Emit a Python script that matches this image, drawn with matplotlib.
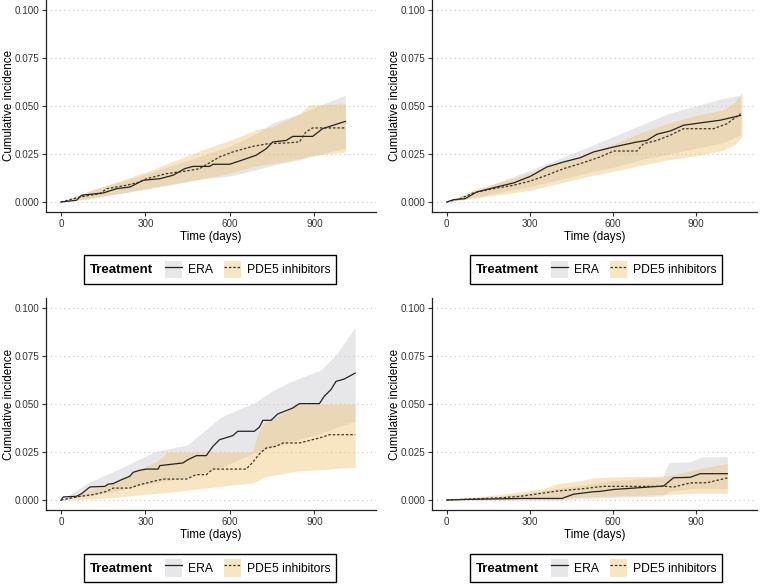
import matplotlib
matplotlib.use("Agg")
import matplotlib.pyplot as plt
from matplotlib.patches import Patch
from matplotlib.lines import Line2D
from matplotlib.offsetbox import HPacker

plt.rcParams['font.family'] = ['Liberation Sans', 'DejaVu Sans']

# ---- panel A (top left) ----
a_era_t = [0, 55, 73, 150, 197, 245, 292, 351, 398, 439, 469, 528, 540, 599, 634, 693, 729, 752, 800, 823, 894, 929, 1010]
a_era_v = [0, 0.0009, 0.0035, 0.0047, 0.0069, 0.0078, 0.0113, 0.0121, 0.0139, 0.0173, 0.0185, 0.0185, 0.0196, 0.0196,
           0.0213, 0.0243, 0.0277, 0.0312, 0.032, 0.0341, 0.0341, 0.0381, 0.0419]
a_pde_t = [0, 67, 138, 162, 233, 280, 304, 374, 445, 492, 522, 563, 610, 681, 735, 800, 847, 870, 894, 1010]
a_pde_v = [0, 0.0026, 0.0043, 0.0069, 0.0087, 0.0104, 0.0121, 0.0147, 0.0161, 0.0173, 0.0199, 0.0234, 0.026, 0.0289,
           0.0303, 0.0307, 0.0312, 0.0364, 0.0385, 0.0385]
a_era_bt = [0, 100, 300, 500, 600, 700, 750, 850, 950, 1010]
a_era_lo = [0, 0.002, 0.0065, 0.012, 0.0135, 0.017, 0.019, 0.022, 0.026, 0.028]
a_era_hi = [0, 0.0055, 0.0145, 0.024, 0.029, 0.036, 0.041, 0.046, 0.052, 0.0555]
a_pde_bt = [0, 100, 300, 500, 600, 700, 750, 850, 880, 1010]
a_pde_lo = [0, 0.0015, 0.007, 0.012, 0.015, 0.019, 0.020, 0.0225, 0.024, 0.026]
a_pde_hi = [0, 0.0058, 0.0155, 0.027, 0.032, 0.038, 0.039, 0.046, 0.0505, 0.051]

# ---- panel B (top right) ----
b_era_t = [0, 24, 66, 108, 180, 241, 301, 361, 421, 481, 529, 602, 686, 722, 758, 806, 854, 914, 986, 1060]
b_era_v = [0, 0.0012, 0.0017, 0.0052, 0.0078, 0.0099, 0.0133, 0.0182, 0.0208, 0.023, 0.026, 0.0286, 0.0312, 0.032,
           0.0352, 0.0369, 0.0399, 0.0411, 0.0425, 0.045]
b_pde_t = [0, 48, 96, 168, 241, 301, 361, 421, 481, 553, 602, 686, 710, 758, 806, 854, 962, 1011, 1060]
b_pde_v = [0, 0.0017, 0.0047, 0.0069, 0.0087, 0.0109, 0.0139, 0.0173, 0.0199, 0.0234, 0.0265, 0.0265, 0.0303, 0.032,
           0.0347, 0.0381, 0.0381, 0.0407, 0.0459]
b_era_bt = [0, 100, 300, 500, 600, 700, 800, 900, 1000, 1060]
b_era_lo = [0, 0.0025, 0.008, 0.015, 0.018, 0.022, 0.025, 0.028, 0.031, 0.035]
b_era_hi = [0, 0.0055, 0.0165, 0.028, 0.034, 0.040, 0.046, 0.050, 0.054, 0.0555]
b_pde_bt = [0, 100, 300, 500, 600, 700, 800, 900, 1000, 1040, 1065]
b_pde_lo = [0, 0.002, 0.006, 0.013, 0.016, 0.019, 0.022, 0.024, 0.027, 0.030, 0.034]
b_pde_hi = [0, 0.0065, 0.015, 0.025, 0.030, 0.036, 0.041, 0.045, 0.048, 0.052, 0.057]

# ---- panel C (bottom left) ----
c_era_t = [0, 8, 55, 73, 103, 156, 168, 185, 215, 244, 256, 280, 304, 345, 351, 433, 451, 481, 516, 540, 563, 610,
           628, 687, 705, 717, 746, 770, 823, 847, 918, 935, 959, 977, 1006, 1045]
c_era_v = [0, 0.0016, 0.0019, 0.0033, 0.0068, 0.0071, 0.0083, 0.0085, 0.0106, 0.0123, 0.0144, 0.0155, 0.0161, 0.0161,
           0.0179, 0.0193, 0.021, 0.0231, 0.0231, 0.028, 0.0314, 0.0335, 0.0358, 0.0358, 0.038, 0.0415, 0.0415,
           0.0448, 0.0479, 0.0502, 0.0502, 0.054, 0.0575, 0.0618, 0.063, 0.0661]
c_pde_t = [0, 67, 115, 162, 185, 244, 280, 327, 363, 445, 481, 516, 540, 658, 681, 705, 729, 764, 788, 847, 918, 953, 1045]
c_pde_v = [0, 0.0019, 0.0028, 0.0045, 0.0062, 0.0062, 0.008, 0.0097, 0.0109, 0.0109, 0.0132, 0.0132, 0.0161, 0.0161,
           0.0196, 0.0241, 0.0271, 0.028, 0.0297, 0.0297, 0.0323, 0.034, 0.034]
c_era_bt = [0, 96, 216, 333, 450, 570, 688, 748, 806, 926, 982, 1045]
c_era_lo = [0, 0.002, 0.0055, 0.009, 0.012, 0.017, 0.0247, 0.027, 0.030, 0.035, 0.038, 0.041]
c_era_hi = [0, 0.009, 0.0168, 0.0252, 0.0288, 0.0434, 0.0507, 0.0566, 0.061, 0.068, 0.0767, 0.0901]
c_pde_bt = [0, 100, 200, 300, 340, 380, 680, 700, 720, 800, 830, 1045]
c_pde_lo = [0, 0.0005, 0.0015, 0.003, 0.0035, 0.004, 0.009, 0.010, 0.012, 0.014, 0.015, 0.017]
c_pde_hi = [0, 0.005, 0.010, 0.0175, 0.020, 0.025, 0.025, 0.035, 0.040, 0.046, 0.050, 0.050]

# ---- panel D (bottom right) ----
d_era_t = [0, 72, 265, 415, 457, 529, 553, 602, 674, 782, 818, 878, 914, 1012]
d_era_v = [0, 0.0003, 0.0008, 0.0008, 0.003, 0.0043, 0.0045, 0.0055, 0.0062, 0.0073, 0.0116, 0.0118, 0.0137, 0.0137]
d_pde_t = [0, 100, 200, 264, 401, 492, 564, 795, 817, 878, 939, 1012]
d_pde_v = [0, 0.0006, 0.0012, 0.0019, 0.0047, 0.0059, 0.0071, 0.0071, 0.0067, 0.0089, 0.009, 0.0115]
d_era_bt = [0, 200, 400, 600, 780, 800, 880, 920, 1012]
d_era_lo = [0, 0, 0, 0.0015, 0.002, 0.0045, 0.006, 0.006, 0.006]
d_era_hi = [0, 0.002, 0.006, 0.010, 0.012, 0.0195, 0.020, 0.0225, 0.0225]
d_pde_bt = [0, 200, 350, 400, 470, 530, 600, 800, 900, 1012]
d_pde_lo = [0, 0.0003, 0.0008, 0.001, 0.0015, 0.0018, 0.002, 0.003, 0.0035, 0.0035]
d_pde_hi = [0, 0.003, 0.006, 0.0085, 0.0098, 0.0115, 0.012, 0.0125, 0.016, 0.019]

x_ticks = [0, 300, 600, 900]
y_ticks = [0.0, 0.025, 0.05, 0.075, 0.1]
y_ticklabels = ["0.000", "0.025", "0.050", "0.075", "0.100"]
groups = ["ERA", "PDE5 inhibitors"]

ERA_FILL = '#c4c4c8'
PDE_FILL = '#eebf68'
ERA_LINE = '#222222'
PDE_LINE = '#3b3325'

W, H = 760, 584
fig = plt.figure(figsize=(W / 100, H / 100), dpi=100)


def px_axes(left, top, right, bottom):
    return fig.add_axes([left / W, 1 - bottom / H, (right - left) / W, (bottom - top) / H])


def panel(ax, et, ev, ebt, elo, ehi, pt, pv, pbt, plo, phi, leg_xy):
    ax.fill_between(ebt, elo, ehi, color=ERA_FILL, alpha=0.4, lw=0, zorder=2)
    ax.fill_between(pbt, plo, phi, color=PDE_FILL, alpha=0.4, lw=0, zorder=3)
    ax.plot(et, ev, color=ERA_LINE, lw=0.9, zorder=4)
    ax.plot(pt, pv, color=PDE_LINE, lw=0.9, ls=(0, (2.0, 1.5)), zorder=5)
    ax.set_xlim(-53.3, 1119)
    ax.set_ylim(-0.005, 0.105)
    ax.set_xticks(x_ticks)
    ax.set_yticks(y_ticks)
    ax.set_yticklabels(y_ticklabels)
    for y in y_ticks:
        ax.axhline(y, color='#c8c8c8', lw=0.8, ls=(0, (1, 3)), zorder=1)
    for s in ['top', 'right']:
        ax.spines[s].set_visible(False)
    for s in ['left', 'bottom']:
        ax.spines[s].set_linewidth(0.9)
        ax.spines[s].set_color('#222222')
    ax.tick_params(length=3, width=0.8, color='#333333', labelcolor='#333333', labelsize=7.1, pad=2)
    ax.set_xlabel("Time (days)", fontsize=8.4, labelpad=1.5)
    ax.set_ylabel("Cumulative incidence", fontsize=8.4)
    ax.yaxis.set_label_coords(-31 / ax.bbox.width, 0.5)

    handles = [(Patch(facecolor=ERA_FILL, alpha=0.4, lw=0), Line2D([], [], color=ERA_LINE, lw=0.9)),
               (Patch(facecolor=PDE_FILL, alpha=0.4, lw=0), Line2D([], [], color=PDE_LINE, lw=0.9, ls=(0, (2, 1.5))))]
    leg = ax.legend(handles, groups, title="Treatment", ncol=2, loc='center',
                    bbox_to_anchor=(leg_xy[0] / W, 1 - leg_xy[1] / H), bbox_transform=fig.transFigure,
                    fancybox=False, edgecolor='black', fontsize=8.7,
                    title_fontproperties={'weight': 'bold', 'size': 9.5},
                    handlelength=1.4, handleheight=1.9, handletextpad=0.5, columnspacing=0.9,
                    borderpad=0.45, framealpha=1)
    leg.get_frame().set_linewidth(1.0)
    vbox = leg._legend_box
    kids = vbox.get_children()
    vbox._children = [HPacker(pad=0, sep=9, align='baseline', children=[kids[0], kids[1]])]


ax1 = px_axes(46, 0, 376, 211.6)
panel(ax1, a_era_t, a_era_v, a_era_bt, a_era_lo, a_era_hi,
      a_pde_t, a_pde_v, a_pde_bt, a_pde_lo, a_pde_hi, (210, 269.5))
ax2 = px_axes(432, 0, 757, 211.6)
panel(ax2, b_era_t, b_era_v, b_era_bt, b_era_lo, b_era_hi,
      b_pde_t, b_pde_v, b_pde_bt, b_pde_lo, b_pde_hi, (596, 269.5))
ax3 = px_axes(46, 298.4, 376, 509.6)
panel(ax3, c_era_t, c_era_v, c_era_bt, c_era_lo, c_era_hi,
      c_pde_t, c_pde_v, c_pde_bt, c_pde_lo, c_pde_hi, (210, 568))
ax4 = px_axes(432, 298.4, 757, 509.6)
panel(ax4, d_era_t, d_era_v, d_era_bt, d_era_lo, d_era_hi,
      d_pde_t, d_pde_v, d_pde_bt, d_pde_lo, d_pde_hi, (596, 568))

fig.savefig("out.png", dpi=100)
